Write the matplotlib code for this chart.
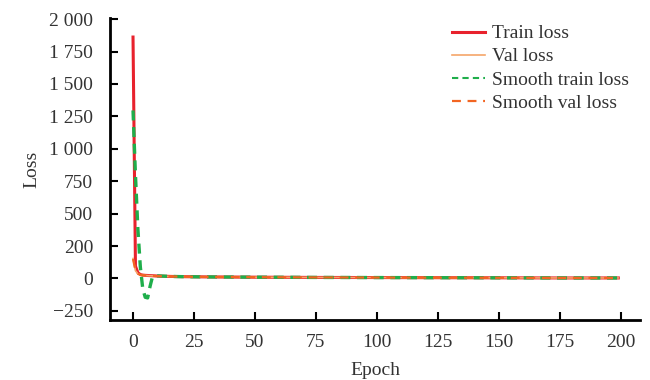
import matplotlib
matplotlib.use('Agg')
import matplotlib.pyplot as plt

epochs = [0, 1, 2, 3, 4, 5, 6, 7, 8, 9, 10, 15, 20, 30, 50, 75, 100, 125, 150, 175, 199]
train_loss = [1862, 95, 45, 30, 26, 24, 23, 22, 21, 20, 19, 16, 14, 12, 10, 8, 7, 6, 5, 4, 4]
val_loss = [154, 60, 36, 28, 25, 23, 22, 21, 20, 19, 18, 16, 14, 12, 10, 8, 7, 6, 5, 4, 4]
smooth_train = [1296, 800, 380, 90, -80, -145, -150, -60, 15, 22, 20, 16, 14, 12, 10, 8, 7, 6, 5, 4, 4]
smooth_val = [150, 62, 37, 28, 25, 23, 22, 21, 20, 19, 18, 16, 14, 12, 10, 8, 7, 6, 5, 4, 4]

xticks = [0, 25, 50, 75, 100, 125, 150, 175, 200]
yticks = [-250, 0, 250, 500, 750, 1000, 1250, 1500, 1750, 2000]
ytick_labels = ['\u2212250', '0', '200', '500', '750', '1 000', '1 250', '1 500', '1 750', '2 000']

plt.rcParams['font.family'] = ['Liberation Serif', 'DejaVu Serif']
txt = '#333333'

fig = plt.figure(figsize=(6.5, 3.8), dpi=100)
ax = fig.add_axes([0.169, 0.158, 0.816, 0.795])

ax.plot(epochs, train_loss, color='#e8222d', lw=2.2, label='Train loss')
ax.plot(epochs, val_loss, color='#f5a66a', lw=1.2, label='Val loss')
ax.plot(epochs, smooth_train, color='#1fae4b', lw=2.4, ls=(0, (3, 2)), label='Smooth train loss')
ax.plot(epochs, smooth_val, color='#f26522', lw=1.6, ls=(0, (4, 3)), label='Smooth val loss')

ax.set_xlim(-9.5, 208)
ax.set_ylim(-320, 2010)
ax.set_xticks(xticks)
ax.set_yticks(yticks)
ax.set_yticklabels(ytick_labels)
ax.tick_params(direction='in', length=6, width=1.5, labelsize=14, colors='black', labelcolor=txt)
ax.tick_params(axis='y', pad=12)
ax.tick_params(axis='x', pad=10)

for s in ['top', 'right']:
    ax.spines[s].set_visible(False)
for s in ['left', 'bottom']:
    ax.spines[s].set_linewidth(2)

ax.set_xlabel('Epoch', fontsize=14, color=txt, labelpad=8)
ax.set_ylabel('Loss', fontsize=14, color=txt, labelpad=6)

leg = ax.legend(loc='upper right', frameon=False, fontsize=14, handlelength=1.7,
                labelspacing=0.28, handletextpad=0.35, bbox_to_anchor=(1.012, 1.035))
for t in leg.get_texts():
    t.set_color(txt)
leg.get_lines()[2].set_linewidth(1.5)

plt.savefig('out.png', dpi=100)
plt.close()
